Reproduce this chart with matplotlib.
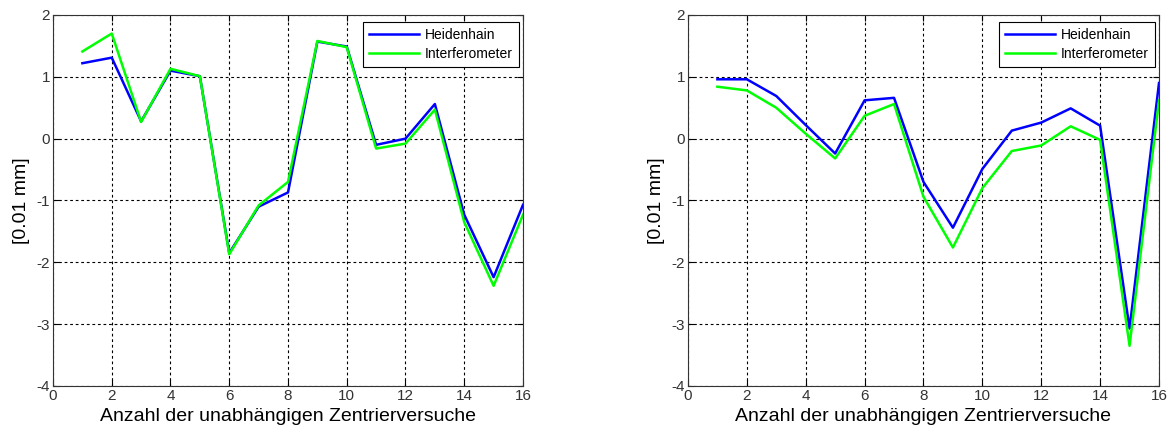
import numpy as np
import matplotlib.pyplot as plt

plt.rcParams['font.family'] = ['Liberation Sans', 'DejaVu Sans']
plt.rcParams['axes.unicode_minus'] = False

versuche = np.arange(1, 17)

# measurement series, left: first run, right: second run  [0.01 mm]
heid_a = [1.22, 1.31, 0.28, 1.10, 1.01, -1.85, -1.10, -0.87, 1.57, 1.49,
          -0.10, 0.00, 0.56, -1.23, -2.24, -1.07]
interf_a = [1.41, 1.70, 0.27, 1.13, 1.01, -1.87, -1.08, -0.70, 1.58, 1.48,
            -0.16, -0.08, 0.47, -1.35, -2.38, -1.23]

heid_b = [0.96, 0.96, 0.69, 0.22, -0.24, 0.62, 0.66, -0.70, -1.44, -0.49,
          0.13, 0.26, 0.49, 0.21, -3.07, 0.90]
interf_b = [0.84, 0.78, 0.50, 0.08, -0.32, 0.37, 0.56, -0.94, -1.76, -0.80,
            -0.20, -0.11, 0.20, -0.02, -3.35, 0.62]

xticks = np.arange(0, 17, 2)
yticks = np.arange(-4, 3, 1)

fig = plt.figure(figsize=(11.7, 4.32), dpi=100)
ax1 = fig.add_axes([0.0453, 0.1065, 0.4017, 0.8588])
ax2 = fig.add_axes([0.5880, 0.1065, 0.4026, 0.8588])

for ax, h, i in [(ax1, heid_a, interf_a), (ax2, heid_b, interf_b)]:
    ax.plot(versuche, h, color=(0, 0, 1), lw=1.8, label='Heidenhain')
    ax.plot(versuche, i, color=(0, 1, 0), lw=1.8, label='Interferometer')
    ax.set_xlim(0, 16)
    ax.set_ylim(-4, 2)
    ax.set_xticks(xticks)
    ax.set_yticks(yticks)
    ax.grid(True, color='black', linestyle=(0, (2.5, 2.5)), linewidth=0.8)
    ax.tick_params(direction='in', top=True, right=True, length=4,
                   labelsize=11, labelcolor='#333333', pad=2)
    for sp in ax.spines.values():
        sp.set_linewidth(0.8)
        sp.set_color('#333333')
    ax.set_xlabel('Anzahl der unabhängigen Zentrierversuche', fontsize=14,
                  labelpad=4)
    ax.set_ylabel('[0.01 mm]', fontsize=14, labelpad=5)
    leg = ax.legend(loc='upper right', bbox_to_anchor=(0.992, 0.982),
                    fontsize=10, fancybox=False, framealpha=1,
                    edgecolor='black', borderaxespad=0, handlelength=3.6,
                    handletextpad=0.4, borderpad=0.45, labelspacing=0.35)
    leg.get_frame().set_linewidth(0.8)

fig.savefig('out.png', dpi=100)
